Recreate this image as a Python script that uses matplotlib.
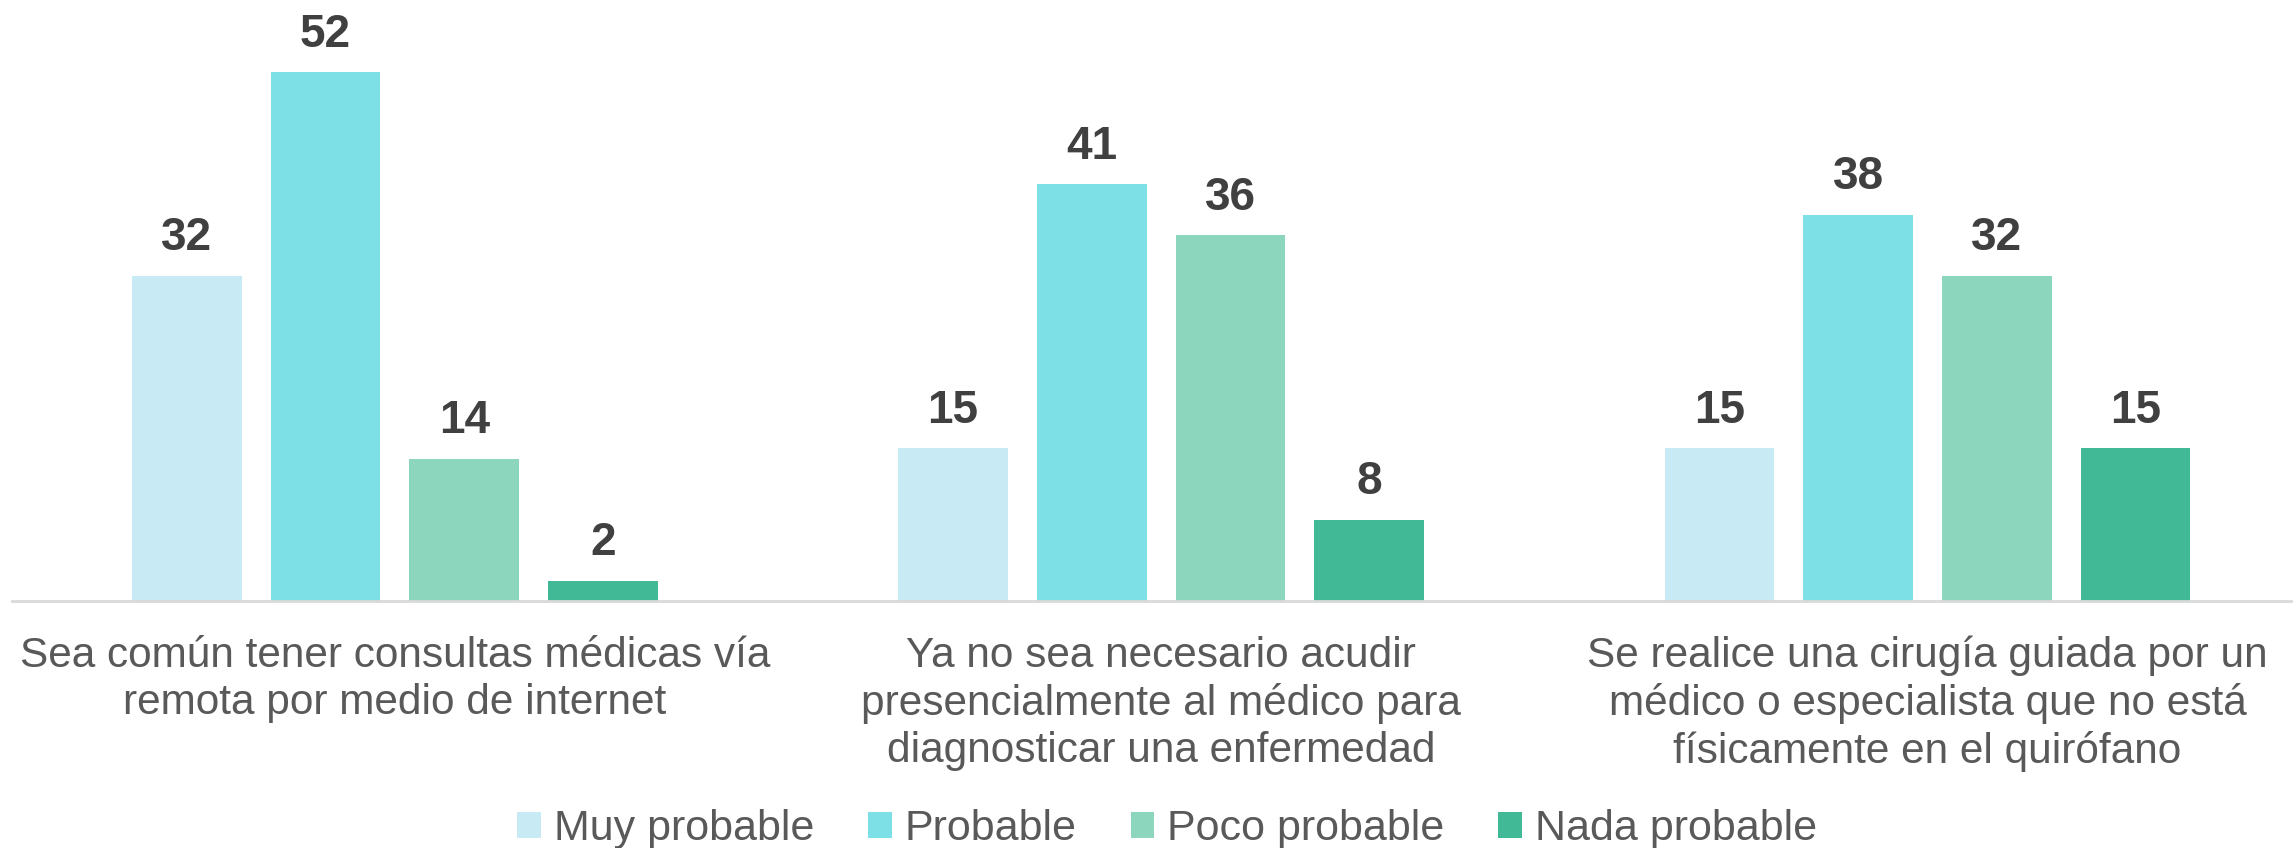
import numpy as np
import matplotlib.pyplot as plt

plt.rcParams['font.family'] = ['Liberation Sans', 'DejaVu Sans']

categories = [
    'Sea común tener consultas médicas vía\nremota por medio de internet',
    'Ya no sea necesario acudir\npresencialmente al médico para\ndiagnosticar una enfermedad',
    'Se realice una cirugía guiada por un\nmédico o especialista que no está\nfísicamente en el quirófano',
]
series = ['Muy probable', 'Probable', 'Poco probable', 'Nada probable']
muy_probable = [32, 15, 15]
probable = [52, 41, 38]
poco_probable = [14, 36, 32]
nada_probable = [2, 8, 15]
values = [muy_probable, probable, poco_probable, nada_probable]
colors = ['#C7EAF5', '#7DE0E6', '#8DD6BE', '#41B996']

fig = plt.figure(figsize=(22.93, 8.48), dpi=100)
ax = fig.add_axes([0.0051, 0.2913, 1.0026, 0.7087])

x = np.arange(len(categories))
step = 0.181
width = 0.143
for i, (name, vals, c) in enumerate(zip(series, values, colors)):
    pos = x + (i - 1.5) * step
    bars = ax.bar(pos, vals, width, color=c, label=name)
    for b, v in zip(bars, vals):
        ax.annotate(str(v), (b.get_x() + b.get_width() / 2, v),
                    xytext=(0, 11), textcoords='offset points',
                    ha='center', va='bottom', fontsize=33,
                    fontweight='bold', color='#404040')

ax.set_xlim(-0.5, 2.5)
ax.set_ylim(0, 59.1)
ax.set_xticks(x)
ax.set_xticklabels(categories, fontsize=30.5, color='#595959', linespacing=1.22)
ax.tick_params(axis='x', length=0, pad=25)
ax.set_yticks([])
for s in ['top', 'right', 'left']:
    ax.spines[s].set_visible(False)
ax.spines['bottom'].set_color('#D9D9D9')
ax.spines['bottom'].set_linewidth(2)

fig.legend(loc='center', bbox_to_anchor=(0.509, 0.022), ncol=4, frameon=False,
           fontsize=31, labelcolor='#595959', handlelength=0.55, handleheight=0.55,
           handletextpad=0.3, columnspacing=1.25)

fig.savefig('out.png', dpi=100)
